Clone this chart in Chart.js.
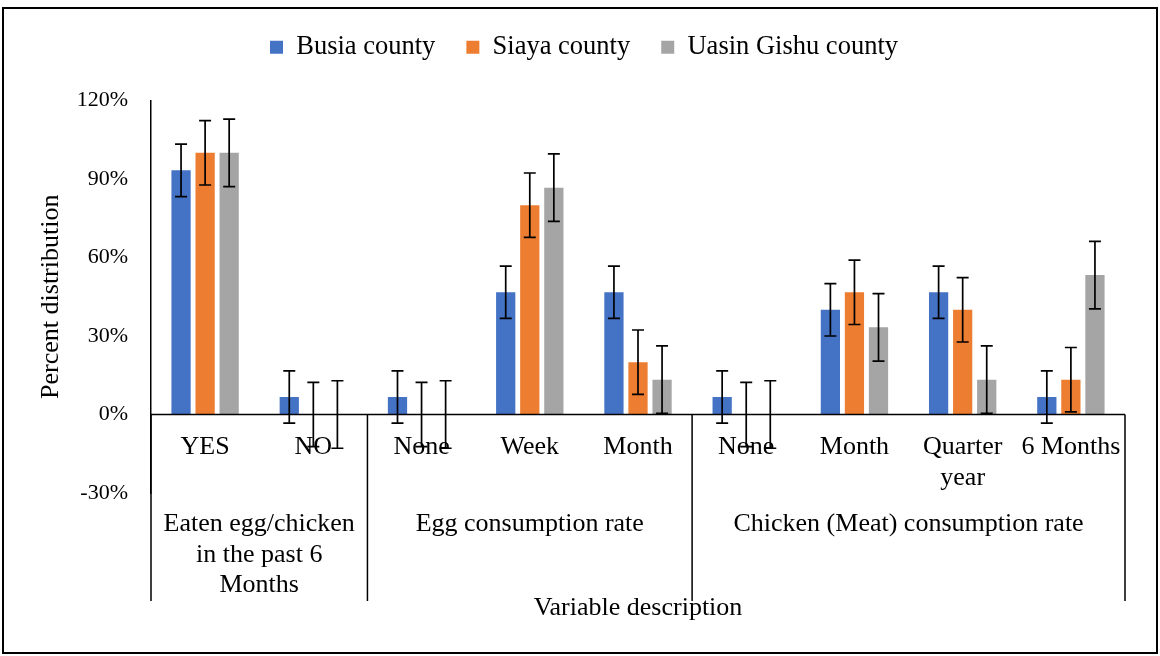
<!DOCTYPE html>
<html>
<head>
<meta charset="utf-8">
<title>Egg and chicken consumption by county</title>
<script src="https://cdn.jsdelivr.net/npm/chart.js@4.4.1/dist/chart.umd.min.js"></script>
<style>
  html, body { margin: 0; padding: 0; background: #fff; }
  canvas { display: block; }
</style>
</head>
<body>
<canvas id="chart" width="1160" height="656"></canvas>
<script>
// Chart data (percent)
const categories = ['YES', 'NO', 'None', 'Week', 'Month', 'None', 'Month', ['Quarter', 'year'], '6 Months'];
const groupLabels = [
    ['Eaten egg/chicken', 'in the past 6', 'Months'],
    ['Egg consumption rate'],
    ['Chicken (Meat) consumption rate'],
];
const groupSizes = [2, 3, 4];

const seriesNames = ['Busia county', 'Siaya county', 'Uasin Gishu county'];
const busia = [93.3, 6.7, 6.7, 46.7, 46.7, 6.7, 40, 46.7, 6.7];
const siaya = [100, 0, 0, 80, 20, 0, 46.7, 40, 13.3];
const uasin = [100, 0, 0, 86.7, 13.3, 0, 33.3, 13.3, 53.3];

// error bar half-lengths
const busiaErr = [10, 10, 10, 10, 10, 10, 10, 10, 10];
const siayaErr = [12.3, 12.3, 12.3, 12.3, 12.3, 12.3, 12.3, 12.3, 12.3];
const uasinErr = [12.9, 12.9, 12.9, 12.9, 12.9, 12.9, 12.9, 12.9, 12.9];

const yTicks = [-30, 0, 30, 60, 90, 120];

const SERIF = '"Liberation Serif", "Times New Roman", serif';
Chart.defaults.font.family = SERIF;
Chart.defaults.color = '#000';

// extra room between legend and plot
const legendGap = {
    id: 'legendGap',
    beforeInit(chart) {
        const fit = chart.legend.fit;
        chart.legend.fit = function () {
            fit.bind(chart.legend)();
            this.height += 30;
        };
    },
};

// outer frame + white background
const frame = {
    id: 'frame',
    beforeDraw(chart) {
        const ctx = chart.ctx;
        ctx.save();
        ctx.fillStyle = '#fff';
        ctx.fillRect(0, 0, chart.width, chart.height);
        ctx.restore();
    },
    afterDraw(chart) {
        const ctx = chart.ctx;
        ctx.save();
        ctx.strokeStyle = '#000';
        ctx.lineWidth = 2;
        ctx.strokeRect(3, 8, chart.width - 6, chart.height - 11);
        ctx.restore();
    },
};

// error bars drawn from each bar's own position
const errorBars = {
    id: 'errorBars',
    afterDatasetsDraw(chart) {
        const ctx = chart.ctx;
        const y = chart.scales.y;
        ctx.save();
        ctx.strokeStyle = '#000';
        ctx.lineWidth = 1.7;
        chart.data.datasets.forEach((ds, di) => {
            const meta = chart.getDatasetMeta(di);
            meta.data.forEach((bar, i) => {
                const v = ds.data[i];
                const e = ds.errors[i];
                const top = y.getPixelForValue(v + e);
                const bot = y.getPixelForValue(v - e);
                ctx.beginPath();
                ctx.moveTo(bar.x, top);
                ctx.lineTo(bar.x, bot);
                ctx.moveTo(bar.x - 6, top);
                ctx.lineTo(bar.x + 6, top);
                ctx.moveTo(bar.x - 6, bot);
                ctx.lineTo(bar.x + 6, bot);
                ctx.stroke();
            });
        });
        ctx.restore();
    },
};

// two-level category axis sitting on the zero line
const multiLevelAxis = {
    id: 'multiLevelAxis',
    afterDraw(chart) {
        const ctx = chart.ctx;
        const x = chart.scales.x;
        const y = chart.scales.y;
        const area = chart.chartArea;
        const y0 = y.getPixelForValue(0);
        const divBottom = 601;

        ctx.save();
        ctx.strokeStyle = '#000';
        ctx.lineWidth = 1.5;

        // zero line
        ctx.beginPath();
        ctx.moveTo(area.left, y0);
        ctx.lineTo(area.right, y0);
        ctx.stroke();

        // group boundaries
        const edges = [area.left];
        let idx = 0;
        groupSizes.forEach((n) => {
            idx += n;
            edges.push(idx >= categories.length
                ? area.right
                : (x.getPixelForValue(idx - 1) + x.getPixelForValue(idx)) / 2);
        });
        ctx.beginPath();
        edges.forEach((ex) => {
            ctx.moveTo(ex, y0);
            ctx.lineTo(ex, divBottom);
        });
        ctx.stroke();

        ctx.fillStyle = '#000';
        ctx.font = '26px ' + SERIF;
        ctx.textAlign = 'center';
        ctx.textBaseline = 'alphabetic';

        // inner category labels
        categories.forEach((c, i) => {
            const lines = Array.isArray(c) ? c : [c];
            const cx = x.getPixelForValue(i);
            lines.forEach((t, li) => ctx.fillText(t, cx, 454 + li * 31));
        });

        // group labels
        groupLabels.forEach((lines, g) => {
            const cx = (edges[g] + edges[g + 1]) / 2;
            lines.forEach((t, li) => ctx.fillText(t, cx, 531 + li * 30.5));
        });

        // axis title
        ctx.fillText('Variable description', (area.left + area.right) / 2, 615);
        ctx.restore();
    },
};

new Chart(document.getElementById('chart'), {
    type: 'bar',
    data: {
        labels: categories,
        datasets: [
            { label: seriesNames[0], data: busia, errors: busiaErr, backgroundColor: '#4472C4' },
            { label: seriesNames[1], data: siaya, errors: siayaErr, backgroundColor: '#ED7D31' },
            { label: seriesNames[2], data: uasin, errors: uasinErr, backgroundColor: '#A5A5A5' },
        ],
    },
    options: {
        responsive: false,
        animation: false,
        layout: { padding: { top: 3, right: 35, bottom: 163, left: 43 } },
        datasets: {
            bar: { categoryPercentage: 0.667, barPercentage: 0.8 },
        },
        plugins: {
            legend: {
                position: 'top',
                labels: {
                    font: { size: 26.5 },
                    boxWidth: 13,
                    boxHeight: 13,
                    padding: 31,
                },
            },
            tooltip: { enabled: false },
        },
        scales: {
            x: { display: false },
            y: {
                min: -30,
                max: 120,
                afterFit: (s) => { s.width = 108; },
                afterBuildTicks: (s) => { s.ticks = yTicks.map((v) => ({ value: v })); },
                grid: { display: false, drawTicks: false },
                border: { display: true, color: '#000', width: 1.5 },
                ticks: {
                    padding: 23,
                    font: { size: 22 },
                    callback: (v) => v + '%',
                },
                title: {
                    display: true,
                    text: 'Percent distribution',
                    font: { size: 26 },
                    padding: { top: -7, bottom: 0 },
                },
            },
        },
    },
    plugins: [legendGap, frame, errorBars, multiLevelAxis],
});
</script>
</body>
</html>
